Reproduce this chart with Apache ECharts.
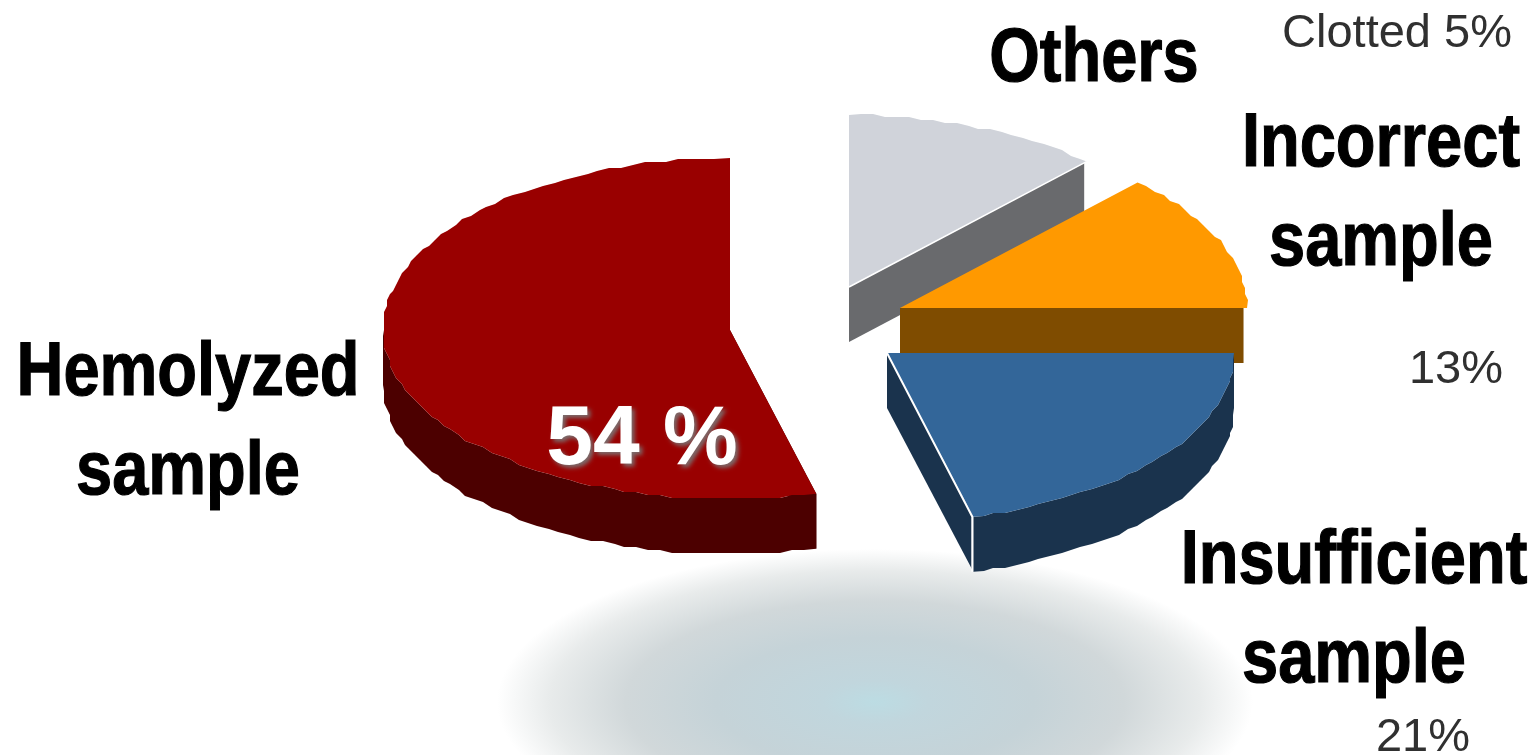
<!DOCTYPE html>
<html>
<head>
<meta charset="utf-8">
<style>html,body{margin:0;padding:0;background:#fff}#chart{width:1537px;height:755px}</style>
<script src="https://cdn.jsdelivr.net/npm/echarts@6/dist/echarts.min.js"></script>
</head>
<body>
<div id="chart"></div>
<script>
// Rejected sample causes, clockwise from twelve o'clock (percent)
const causes = ['Others', 'Incorrect sample', 'Insufficient sample', 'Hemolyzed sample'];
const shares = [12, 13, 21, 54];
const clottedShare = 5;

// Pull-out position of each wedge, as a pie centre in pixels
const centres = [[849, 287], [900, 308], [887, 353], [730, 330]];
const topColours = ['#d0d3da', '#ff9900', '#336699', '#990000'];
const wallColours = ['#696a6d', '#7f4c00', '#1a334d', '#4c0000'];
const RX = 347, RY_BACK = 172, RY_FRONT = 169, DEPTH = 55, SNAP = 3, STEP = 2;

const total = shares.reduce((a, b) => a + b, 0);
const toAngle = v => v / total * 360;

function rimPoint(c, deg, snap) {
  const t = deg * Math.PI / 180;
  const cos = Math.cos(t);
  const x = c[0] + RX * Math.sin(t), y = c[1] - (cos > 0 ? RY_BACK : RY_FRONT) * cos;
  return snap ? [Math.round(x / SNAP) * SNAP, Math.round(y / SNAP) * SNAP] : [x, y];
}
function rim(c, a, b) {
  const pts = [rimPoint(c, a, false)];
  for (let d = a + STEP; d < b - STEP / 2; d += STEP) pts.push(rimPoint(c, d, true));
  pts.push(rimPoint(c, b, false));
  return pts;
}
const drop = pts => pts.map(p => [p[0], p[1] + DEPTH]).reverse();
const poly = (points, fill) => ({ type: 'polygon', shape: { points }, style: { fill } });
const insetTip = (c, tip) => [c[0] + (tip[0] - c[0]) * 0.99, c[1] + (tip[1] - c[1]) * 0.99];

function renderWedge(params, api) {
  const i = params.dataIndex;
  const c = centres[i];
  const start = toAngle(shares.slice(0, i).reduce((a, b) => a + b, 0));
  const end = start + toAngle(api.value(0));
  const wall = wallColours[i];
  const children = [];
  const tipStart = rimPoint(c, start, false), tipEnd = rimPoint(c, end, false);

  // Cut faces that turn towards the viewer
  if (end <= 180) {
    const edge = [c, insetTip(c, tipEnd)];
    children.push(poly(edge.concat(drop(edge)), wall));
  }
  if (start > 90 && start < 180) {
    const edge = [c, tipStart];
    children.push(poly(edge.concat(drop(edge)), wall));
  }
  // Outer rim wall across the front half of the ellipse
  const a = Math.max(start, 90), b = Math.min(end, 270);
  if (b > a) {
    const arc = rim(c, a, b);
    children.push(poly(arc.concat(drop(arc)), wall));
  }
  // Top face
  children.push(poly([c].concat(rim(c, start, end)), topColours[i]));

  // Thin highlights along the facing edges
  if (i === 0) {
    children.push({ type: 'polyline', shape: { points: [c, tipEnd] }, style: { stroke: '#fff', lineWidth: 1.5, fill: null } });
  }
  if (i === 2) {
    children.push({
      type: 'polyline',
      shape: { points: [[tipEnd[0] - 1, tipEnd[1] + DEPTH], [tipEnd[0] - 1, tipEnd[1]], c] },
      style: { stroke: '#fff', lineWidth: 2, fill: null }
    });
  }
  return { type: 'group', children };
}

const heavy = '800 76px "Liberation Sans", Arial, sans-serif';
const light = '47px "Liberation Sans", Arial, sans-serif';
function heavyLabel(text, x, y) {
  return {
    type: 'text', x, y, scaleX: 0.855, z: 100,
    style: {
      text: text.replace(' ', '\n'), font: heavy, fill: '#000', stroke: '#000', lineWidth: 1.2,
      align: 'center', verticalAlign: 'middle', lineHeight: 99
    }
  };
}
function lightLabel(text, x, y) {
  return {
    type: 'text', x, y, z: 100,
    style: { text, font: light, fill: '#303030', align: 'center', verticalAlign: 'middle' }
  };
}

const chart = echarts.init(document.getElementById('chart'));
chart.setOption({
  animation: false,
  backgroundColor: '#ffffff',
  series: [{
    type: 'custom',
    coordinateSystem: 'none',
    silent: true,
    z: 5,
    data: shares.map(v => [v]),
    renderItem: renderWedge
  }],
  graphic: [
    {
      type: 'circle', x: 875, y: 702, scaleY: 0.405, z: 0,
      shape: { cx: 0, cy: 0, r: 378 },
      style: {
        fill: {
          type: 'radial', x: 0.5, y: 0.5, r: 0.5,
          colorStops: [
            { offset: 0, color: '#bcdce3' },
            { offset: 0.14, color: '#c1d6dd' },
            { offset: 0.42, color: '#c5d3d8' },
            { offset: 0.66, color: '#d1d8da' },
            { offset: 0.86, color: '#e8ebeb' },
            { offset: 1, color: '#ffffff' }
          ]
        }
      }
    },
    heavyLabel(causes[0], 1094, 60),
    heavyLabel(causes[1], 1381, 195),
    heavyLabel(causes[2], 1354, 612),
    heavyLabel(causes[3], 188, 424),
    lightLabel('Clotted ' + clottedShare + '%', 1397, 34),
    lightLabel(shares[1] + '%', 1456, 370),
    lightLabel(shares[2] + '%', 1423, 738),
    {
      type: 'text', x: 642, y: 441, z: 100,
      style: {
        text: shares[3] + ' %',
        font: 'bold 84px "Liberation Sans", Arial, sans-serif',
        fill: '#fff', align: 'center', verticalAlign: 'middle',
        textShadowColor: 'rgba(120,120,120,0.9)', textShadowBlur: 4, textShadowOffsetX: 3, textShadowOffsetY: 3
      }
    }
  ]
});
</script>
</body>
</html>
